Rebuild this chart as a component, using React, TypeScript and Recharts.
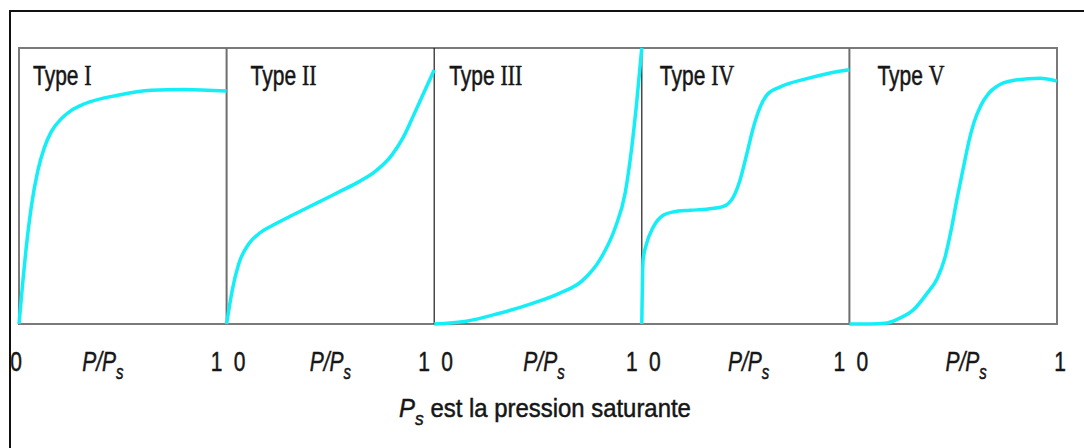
import { LineChart, Line, XAxis, YAxis, ReferenceArea, ReferenceLine, Label } from 'recharts'

// isotherm types, points are [P/Ps, amount] with amount scaled to panel height
const panelNames = ['I', 'II', 'III', 'IV', 'V']

const typeI = [
  [0, 0], [0.019, 0.158], [0.035, 0.279], [0.059, 0.424], [0.091, 0.557],
  [0.123, 0.641], [0.155, 0.696], [0.204, 0.744], [0.252, 0.774], [0.316, 0.798],
  [0.476, 0.829], [0.636, 0.847], [0.796, 0.85], [1, 0.844],
]
const typeII = [
  [0, 0], [0.027, 0.122], [0.059, 0.219], [0.107, 0.291], [0.155, 0.327],
  [0.236, 0.363], [0.316, 0.394], [0.396, 0.424], [0.476, 0.454], [0.556, 0.484],
  [0.636, 0.515], [0.716, 0.553], [0.796, 0.612], [0.85, 0.675], [0.9, 0.755],
  [0.95, 0.838], [1, 0.92],
]
const typeIII = [
  [0, 0], [0.155, 0.01], [0.31, 0.038], [0.47, 0.074], [0.6, 0.11], [0.715, 0.158],
  [0.8, 0.235], [0.87, 0.345], [0.92, 0.475], [0.95, 0.63], [0.975, 0.8], [1, 1],
]
const typeIV = [
  [0, 0], [0.006, 0.231], [0.023, 0.291], [0.055, 0.351], [0.103, 0.394],
  [0.151, 0.406], [0.232, 0.412], [0.312, 0.416], [0.393, 0.426], [0.441, 0.46],
  [0.473, 0.521], [0.506, 0.617], [0.538, 0.714], [0.57, 0.786], [0.602, 0.829],
  [0.667, 0.859], [0.795, 0.889], [0.892, 0.907], [1, 0.921],
]
const typeV = [
  [0, 0], [0.1, 0], [0.183, 0.004], [0.245, 0.022], [0.308, 0.051], [0.375, 0.112],
  [0.423, 0.165], [0.46, 0.24], [0.49, 0.34], [0.52, 0.46], [0.55, 0.57],
  [0.575, 0.66], [0.6, 0.73], [0.632, 0.79], [0.67, 0.835], [0.712, 0.862],
  [0.788, 0.882], [0.918, 0.89], [1, 0.88],
]
const curves = [typeI, typeII, typeIII, typeIV, typeV]

const boundaryTicks = [0, 1, 2, 3, 4, 5]
const ratioTicks = [0.5, 1.5, 2.5, 3.5, 4.5]

const CYAN = '#14eef6'
const INK = '#161616'
const SANS = "'Liberation Sans', Arial, sans-serif"
const SERIF = "'Liberation Serif', 'DejaVu Serif', serif"

// small per-panel nudges to match the hand placed labels
const nameOffset = [14, 24, 15, 18, 28]
const ratioNudge = [-20, 0, 6, 3, 13]
const dividerColor = ['#6e6e6e', '#1c1c1c', '#1c1c1c', '#6e6e6e']

const txt = { fontFamily: SANS, fontSize: 28, fill: INK, stroke: INK, strokeWidth: 0.5 }

// condensed text: squeeze horizontally around the anchor point
const Narrow = ({ x, y, sx = 0.75, children }: any) => (
  <g transform={`translate(${x} ${y}) scale(${sx} 1)`}>{children}</g>
)

const renderTick = (props: any) => {
  const { x, y, payload } = props
  const v = payload.value
  const base = y + 45
  if (Number.isInteger(v)) {
    return (
      <g>
        {v > 0 && (
          <Narrow x={x + (v === 5 ? 3 : -10)} y={base}>
            <text textAnchor='middle' {...txt}>1</text>
          </Narrow>
        )}
        {v < 5 && (
          <Narrow x={x + (v === 0 ? -3 : 13)} y={base}>
            <text textAnchor='middle' {...txt}>0</text>
          </Narrow>
        )}
      </g>
    )
  }
  const i = Math.floor(v)
  return (
    <Narrow x={x + ratioNudge[i]} y={base}>
      <text textAnchor='middle' fontStyle='italic' {...txt}>
        P/P<tspan dy={8} fontSize={20}>s</tspan>
      </text>
    </Narrow>
  )
}

const renderTitle = (props: any) => {
  const vb = props.viewBox
  return (
    <Narrow x={vb.x + vb.width / 2 + 7} y={vb.y + 93} sx={0.92}>
      <text textAnchor='middle' {...txt} fontSize={26}>
        <tspan fontStyle='italic'>P</tspan>
        <tspan fontStyle='italic' dy={8} fontSize={19}>s</tspan>
        <tspan dy={-8}> est la pression saturante</tspan>
      </text>
    </Narrow>
  )
}

const panelName = (i: number) => (props: any) => {
  const vb = props.viewBox
  return (
    <Narrow x={vb.x + nameOffset[i]} y={vb.y + 37}>
      <text {...txt}>
        Type <tspan fontFamily={SERIF} fontSize={29}>{panelNames[i]}</tspan>
      </text>
    </Narrow>
  )
}

export default function App() {
  const allTicks = [...boundaryTicks, ...ratioTicks].sort((a, b) => a - b)

  return (
    <div style={{ position: 'absolute', left: 0, top: 0, width: 1084, height: 448, background: '#fff' }}>
      <div
        style={{
          position: 'absolute',
          left: 9,
          top: 10,
          width: 1075,
          height: 438,
          borderLeft: '2px solid #111',
          borderTop: '2px solid #111',
          boxSizing: 'border-box',
        }}
      />
      <div style={{ position: 'absolute', left: 0, top: 0 }}>
        <LineChart width={1084} height={448} margin={{ top: 48, right: 27, bottom: 64, left: 19 }}>
          <XAxis
            type='number'
            dataKey='x'
            domain={[0, 5]}
            ticks={allTicks}
            interval={0}
            tick={renderTick}
            tickLine={false}
            axisLine={false}
            tickSize={0}
            height={60}
          >
            <Label content={renderTitle} />
          </XAxis>
          <YAxis type='number' dataKey='y' domain={[0, 1]} hide />

          <ReferenceArea x1={0} x2={5} y1={0} y2={1} fill='none' stroke='#7a7a7a' strokeWidth={2} />
          {[1, 2, 3, 4].map((k, i) => (
            <ReferenceLine
              key={k}
              x={k}
              stroke={dividerColor[i]}
              strokeWidth={i === 0 || i === 3 ? 2 : 1.2}
            />
          ))}

          {curves.map((pts, i) => (
            <Line
              key={panelNames[i]}
              data={pts.map(([p, q]) => ({ x: i + p, y: q }))}
              dataKey='y'
              type='monotone'
              stroke={CYAN}
              strokeWidth={3.5}
              dot={false}
              activeDot={false}
              isAnimationActive={false}
            />
          ))}

          {panelNames.map((n, i) => (
            <ReferenceArea
              key={'lbl' + n}
              x1={i}
              x2={i + 1}
              y1={0}
              y2={1}
              fill='none'
              stroke='none'
              label={panelName(i)}
            />
          ))}
        </LineChart>
      </div>
    </div>
  )
}
